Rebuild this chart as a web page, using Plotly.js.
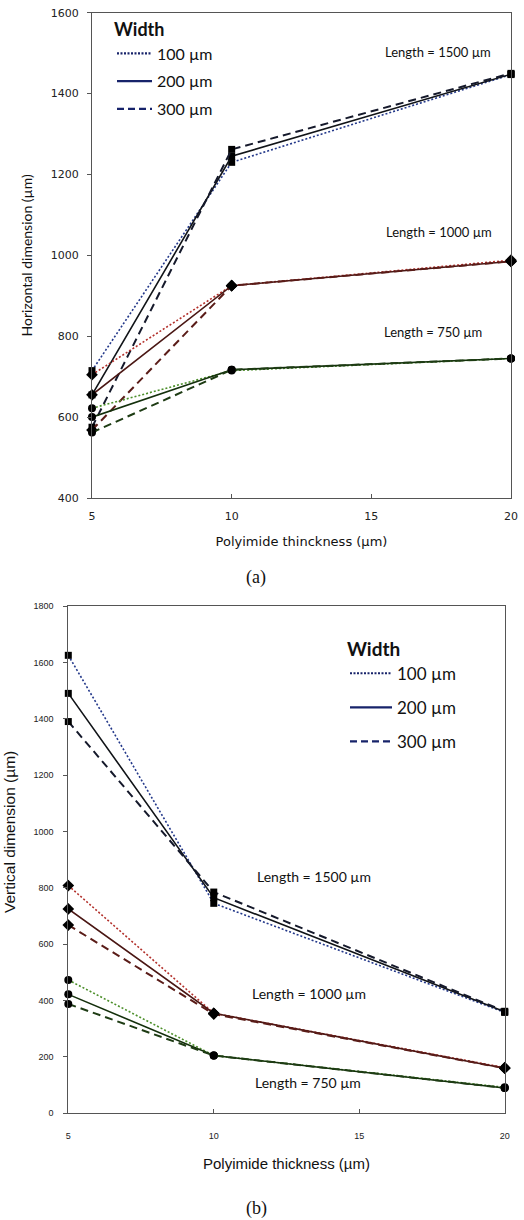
<!DOCTYPE html>
<html>
<head>
<meta charset="utf-8">
<script src="https://cdn.plot.ly/plotly-3.0.1.min.js"></script>
<style>html,body{margin:0;padding:0;background:#fff;}#chart{width:524px;height:1220px;}</style>
</head>
<body>
<div id="chart"></div>
<script>
// ---- data ----
var thickness = [5, 10, 20];
var widths = ['100 µm', '200 µm', '300 µm'];
var lengths = ['1500', '1000', '750'];

// (a) Horizontal dimension (µm)
var h1500_w100 = [715, 1230, 1447];
var h1500_w200 = [655, 1245, 1448];
var h1500_w300 = [575, 1262, 1450];
var h1000_w100 = [705, 925, 988];
var h1000_w200 = [655, 925, 985];
var h1000_w300 = [568, 925, 985];
var h750_w100 = [622, 715, 745];
var h750_w200 = [600, 717, 745];
var h750_w300 = [562, 717, 745];

// (b) Vertical dimension (µm)
var v1500_w100 = [1625, 745, 358];
var v1500_w200 = [1490, 765, 360];
var v1500_w300 = [1390, 785, 362];
var v1000_w100 = [808, 355, 162];
var v1000_w200 = [725, 355, 160];
var v1000_w300 = [668, 352, 160];
var v750_w100 = [473, 205, 92];
var v750_w200 = [422, 205, 90];
var v750_w300 = [388, 205, 90];

var topSeries = [[h1500_w100, h1500_w200, h1500_w300],
                 [h1000_w100, h1000_w200, h1000_w300],
                 [h750_w100, h750_w200, h750_w300]];
var botSeries = [[v1500_w100, v1500_w200, v1500_w300],
                 [v1000_w100, v1000_w200, v1000_w300],
                 [v750_w100, v750_w200, v750_w300]];

// ---- styles ----
var groupColors = [
  ['#23388a', '#111418', '#15192b'],
  ['#b3312c', '#4a1714', '#5a1c18'],
  ['#4c8f2a', '#14300c', '#1e3c14']
];
var symbols = ['square', 'diamond', 'circle'];
var symSize = [7, 9, 8];
var dashes = ['2px,2px', 'solid', '8px,5px'];
var lw = [1.6, 1.6, 2];
var legendColor = '#17236a';

var traces = [];
function addGroup(series, xa, ya) {
  for (var g = 0; g < 3; g++) {
    for (var w = 0; w < 3; w++) {
      traces.push({
        x: thickness, y: series[g][w], xaxis: xa, yaxis: ya,
        type: 'scatter', mode: 'lines+markers', showlegend: false,
        cliponaxis: false, hoverinfo: 'skip',
        name: 'Length ' + lengths[g] + ', ' + widths[w],
        line: {color: groupColors[g][w], width: lw[w], dash: dashes[w]},
        marker: {symbol: symbols[g], size: symSize[g], color: '#000'}
      });
    }
  }
}
addGroup(topSeries, 'x', 'y');
addGroup(botSeries, 'x2', 'y2');

// legend entries
var legendDash = ['2px,1.5px', 'solid', '7px,4px'];
['legend', 'legend2'].forEach(function (lg) {
  for (var w = 0; w < 3; w++) {
    traces.push({
      x: [null], y: [null], xaxis: lg === 'legend' ? 'x' : 'x2', yaxis: lg === 'legend' ? 'y' : 'y2',
      type: 'scatter', mode: 'lines', name: widths[w], legend: lg,
      legendgroup: lg + w, showlegend: true,
      line: {color: legendColor, width: 2.2, dash: legendDash[w]}
    });
  }
});

var axisLine = {showline: true, linecolor: '#555', linewidth: 1, mirror: true, showgrid: false, zeroline: false};
var tickFontTop = {family: 'DejaVu Sans, sans-serif', size: 11, color: '#222'};
var tickFontBot = {family: 'Liberation Sans, Arial, sans-serif', size: 9, color: '#222'};
var annFont = {family: 'Lato, sans-serif', size: 13, color: '#111'};
var annFontB = {family: 'Lato, sans-serif', size: 14, color: '#111'};

var layout = {
  width: 524, height: 1220,
  margin: {l: 0, r: 0, t: 0, b: 0},
  paper_bgcolor: '#fff', plot_bgcolor: '#fff',
  showlegend: true,
  xaxis: Object.assign({}, axisLine, {
    domain: [92 / 524, 511 / 524], range: [5, 20], tickvals: [5, 10, 15, 20],
    ticks: 'inside', ticklen: 4, tickcolor: '#555', tickfont: tickFontTop, ticklabelstandoff: 8,
    title: {text: 'Polyimide thinckness (µm)', font: {family: 'DejaVu Sans, sans-serif', size: 13, color: '#111'}, standoff: 14},
    anchor: 'y'
  }),
  yaxis: Object.assign({}, axisLine, {
    domain: [1 - 498 / 1220, 1 - 12.7 / 1220], range: [400, 1600], tickvals: [400, 600, 800, 1000, 1200, 1400, 1600],
    ticks: 'outside', ticklen: 4, tickcolor: '#555', tickfont: tickFontTop, ticklabelstandoff: 6,
    title: {text: 'Horizontal dimension (µm)', font: {family: 'Lato, sans-serif', size: 14, color: '#111'}, standoff: 14},
    anchor: 'x'
  }),
  xaxis2: Object.assign({}, axisLine, {
    domain: [68.3 / 524, 504.7 / 524], range: [5, 20], tickvals: [5, 10, 15, 20],
    ticks: 'inside', ticklen: 4, tickcolor: '#555', tickfont: tickFontBot, ticklabelstandoff: 14,
    title: {text: 'Polyimide thickness (µm)', font: {family: 'Liberation Sans, Arial, sans-serif', size: 15, color: '#111'}, standoff: 18},
    anchor: 'y2'
  }),
  yaxis2: Object.assign({}, axisLine, {
    domain: [1 - 1113.3 / 1220, 1 - 606 / 1220], range: [0, 1800], tickvals: [0, 200, 400, 600, 800, 1000, 1200, 1400, 1600, 1800],
    ticks: 'outside', ticklen: 4, tickcolor: '#555', tickfont: tickFontBot, ticklabelstandoff: 8,
    anchor: 'x2'
  }),
  legend: {
    x: 112 / 524, y: 1 - 13 / 1220, xanchor: 'left', yanchor: 'top',
    bgcolor: 'rgba(0,0,0,0)', borderwidth: 0, tracegroupgap: 4, itemwidth: 35,
    font: {family: 'Lato, sans-serif', size: 16, color: '#111'},
    title: {text: '<b>Width</b>', font: {family: 'Lato, sans-serif', size: 18, color: '#111'}, side: 'top'}
  },
  legend2: {
    x: 345 / 524, y: 1 - 631 / 1220, xanchor: 'left', yanchor: 'top',
    bgcolor: 'rgba(0,0,0,0)', borderwidth: 0, tracegroupgap: 9, itemwidth: 42,
    font: {family: 'Lato, sans-serif', size: 17, color: '#111'},
    title: {text: '<b>Width</b>', font: {family: 'Lato, sans-serif', size: 19, color: '#111'}, side: 'top'}
  },
  annotations: [
    {text: 'Length = 1500 µm', xref: 'paper', yref: 'paper', x: 438 / 524, y: 1 - 52 / 1220, xanchor: 'center', yanchor: 'middle', showarrow: false, font: annFont},
    {text: 'Length = 1000 µm', xref: 'paper', yref: 'paper', x: 439 / 524, y: 1 - 232 / 1220, xanchor: 'center', yanchor: 'middle', showarrow: false, font: annFont},
    {text: 'Length = 750 µm', xref: 'paper', yref: 'paper', x: 433 / 524, y: 1 - 332 / 1220, xanchor: 'center', yanchor: 'middle', showarrow: false, font: annFont},
    {text: '(a)', xref: 'paper', yref: 'paper', x: 256 / 524, y: 1 - 577 / 1220, xanchor: 'center', yanchor: 'middle', showarrow: false,
     font: {family: 'Liberation Serif, serif', size: 18, color: '#111'}},
    {text: 'Length = 1500 µm', xref: 'paper', yref: 'paper', x: 314 / 524, y: 1 - 876 / 1220, xanchor: 'center', yanchor: 'middle', showarrow: false, font: annFontB},
    {text: 'Length = 1000 µm', xref: 'paper', yref: 'paper', x: 309 / 524, y: 1 - 993 / 1220, xanchor: 'center', yanchor: 'middle', showarrow: false, font: annFontB},
    {text: 'Length = 750 µm', xref: 'paper', yref: 'paper', x: 308 / 524, y: 1 - 1082 / 1220, xanchor: 'center', yanchor: 'middle', showarrow: false, font: annFontB},
    {text: 'Vertical dimension (µm)', xref: 'paper', yref: 'paper', x: 9 / 524, y: 1 - 832 / 1220, xanchor: 'center', yanchor: 'middle', showarrow: false, textangle: -90,
     font: {family: 'Liberation Sans, Arial, sans-serif', size: 15.5, color: '#111'}},
    {text: '(b)', xref: 'paper', yref: 'paper', x: 256 / 524, y: 1 - 1208 / 1220, xanchor: 'center', yanchor: 'middle', showarrow: false,
     font: {family: 'Liberation Serif, serif', size: 18, color: '#111'}}
  ]
};

Plotly.newPlot('chart', traces, layout, {displayModeBar: false, staticPlot: true});
</script>
</body>
</html>
